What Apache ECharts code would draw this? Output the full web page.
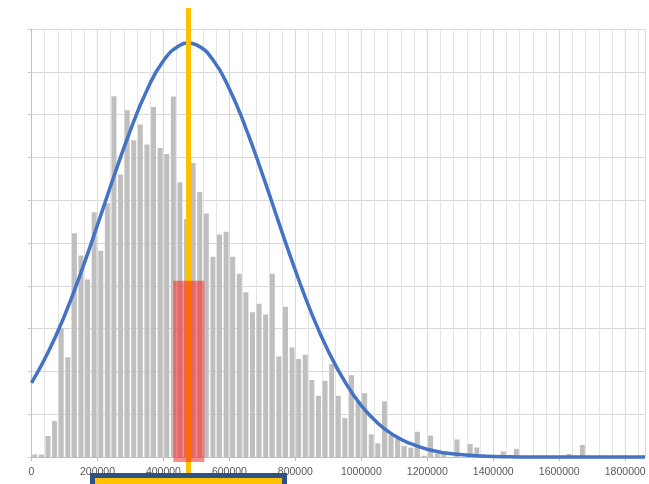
<!DOCTYPE html>
<html><head><meta charset="utf-8">
<script src="https://cdn.jsdelivr.net/npm/echarts@6/dist/echarts.min.js"></script>
<style>html,body{margin:0;padding:0;background:#fff}#c{width:649px;height:484px}</style>
</head><body><div id="c"></div>
<script>
// ---- data ----
const binWidth = 20000;
const binCounts = [
  0.6, 0.6, 4.9, 8.4, 30.1, 23.3, 52.3, 47.1, 41.5, 57.2,
  48.2, 59.3, 84.3, 66.0, 81.0, 74.0, 77.7, 73.0, 81.8, 72.2,
  70.8, 84.2, 64.2, 55.6, 68.7, 61.9, 56.9, 46.8, 52.0, 52.6,
  46.8, 42.8, 38.5, 33.8, 35.8, 33.3, 42.8, 23.5, 35.1, 25.6,
  22.9, 23.9, 18.0, 14.3, 17.8, 21.7, 14.3, 9.1, 19.1, 13.0,
  14.9, 5.3, 3.2, 13.0, 5.2, 4.4, 2.6, 2.2, 5.9, 0.3,
  5.0, 0.8, 0.7, 0, 4.1, 0, 3.0, 2.2, 0, 0,
  0, 1.3, 0, 1.9, 0, 0, 0, 0, 0, 0,
  0, 0.7, 0, 2.8
];
const binCenters = binCounts.map((_, i) => i * binWidth + binWidth / 2);

const curveX = [0, 50000, 100000, 150000, 200000, 250000, 300000, 350000, 400000, 450000, 475000,
  500000, 550000, 600000, 650000, 700000, 750000, 800000, 850000, 900000, 950000,
  1000000, 1050000, 1100000, 1150000, 1200000, 1250000, 1300000, 1350000, 1400000, 1450000,
  1500000, 1550000, 1600000, 1650000, 1700000, 1750000, 1800000, 1850000, 1860000];
const curveY = [17.3, 24.4, 33.0, 43.1, 54.2, 65.6, 76.4, 85.7, 92.6, 96.2, 96.7,
  96.3, 92.8, 86.0, 76.8, 66.1, 54.7, 43.6, 33.4, 24.7, 17.6,
  12.0, 7.9, 5.0, 3.1, 1.8, 1.0, 0.6, 0.3, 0.1, 0.05,
  0, 0, 0, 0, 0, 0, 0, 0, 0];

const meanValue = 476000;
const meanLineFrom = -4;
const meanLineTo = 104.9;
const bandLow = 430000;
const bandHigh = 524000;
const bandHeight = 41.2;

const xTickLabels = ['0', '200000', '400000', '600000', '800000', '1000000', '1200000', '1400000', '1600000', '1800000'];

// ---- chart ----
const chart = echarts.init(document.getElementById('c'), null, {renderer: 'canvas'});
const labelFont = {color: '#595959', fontSize: 10.5, fontFamily: 'Liberation Sans', margin: 10};
const xMin = 0, xMax = 1860000;

chart.setOption({
  animation: false,
  backgroundColor: '#ffffff',
  grid: {left: 31.5, right: 4, top: 29, bottom: 27, containLabel: false},
  xAxis: [
    {
      type: 'value', min: xMin, max: xMax, interval: 40000,
      axisLine: {show: false}, axisTick: {show: false}, axisLabel: {show: false},
      splitLine: {show: true, lineStyle: {color: '#E4E4E4', width: 1}}
    },
    {
      type: 'value', min: xMin, max: xMax, interval: 200000, position: 'bottom',
      axisLine: {show: true, onZero: false, lineStyle: {color: '#BFBFBF'}},
      axisTick: {show: true, length: 4, lineStyle: {color: '#BFBFBF'}},
      axisLabel: Object.assign({
        showMaxLabel: false,
        formatter: function (v) {
          const idx = Math.round(v / 200000);
          return (v % 200000 === 0 && xTickLabels[idx] !== undefined) ? xTickLabels[idx] : '';
        }
      }, labelFont),
      splitLine: {show: true, lineStyle: {color: '#D9D9D9', width: 1}}
    }
  ],
  yAxis: {
    type: 'value', min: 0, max: 100, interval: 10,
    axisLine: {show: true, lineStyle: {color: '#BFBFBF'}},
    axisTick: {show: true, length: 4, lineStyle: {color: '#D0D0D0'}},
    axisLabel: {show: false},
    splitLine: {show: true, lineStyle: {color: '#D9D9D9', width: 1}}
  },
  series: [
    {
      type: 'bar', xAxisIndex: 0, barWidth: 5, z: 2,
      itemStyle: {color: '#BFBFBF'},
      data: binCenters.map((x, i) => [x, binCounts[i]])
    },
    {
      type: 'line', xAxisIndex: 0, smooth: true, symbol: 'none', z: 3, clip: false,
      lineStyle: {color: '#4472C4', width: 3.5},
      data: curveX.map((x, i) => [x, curveY[i]])
    },
    {
      type: 'custom', xAxisIndex: 0, z: 4, clip: false,
      data: [[meanValue, meanLineFrom, meanLineTo]],
      renderItem: function (params, api) {
        const a = api.coord([api.value(0), api.value(1)]);
        const b = api.coord([api.value(0), api.value(2)]);
        return {type: 'line', shape: {x1: a[0], y1: a[1], x2: b[0], y2: b[1]},
          style: {stroke: '#FFC000', lineWidth: 5}};
      }
    },
    {
      type: 'custom', xAxisIndex: 0, z: 5, clip: false,
      data: [[bandLow, bandHigh, bandHeight]],
      renderItem: function (params, api) {
        const tl = api.coord([api.value(0), api.value(2)]);
        const br = api.coord([api.value(1), 0]);
        return {type: 'rect', shape: {x: tl[0], y: tl[1], width: br[0] - tl[0], height: br[1] - tl[1] + 5},
          style: {fill: 'rgba(255,20,20,0.5)'}};
      }
    }
  ],
  graphic: [
    {type: 'rect', z: 100, shape: {x: 92.5, y: 475.5, width: 192, height: 20},
      style: {fill: '#FFC000', stroke: '#2E5283', lineWidth: 5}}
  ]
});
</script></body></html>
